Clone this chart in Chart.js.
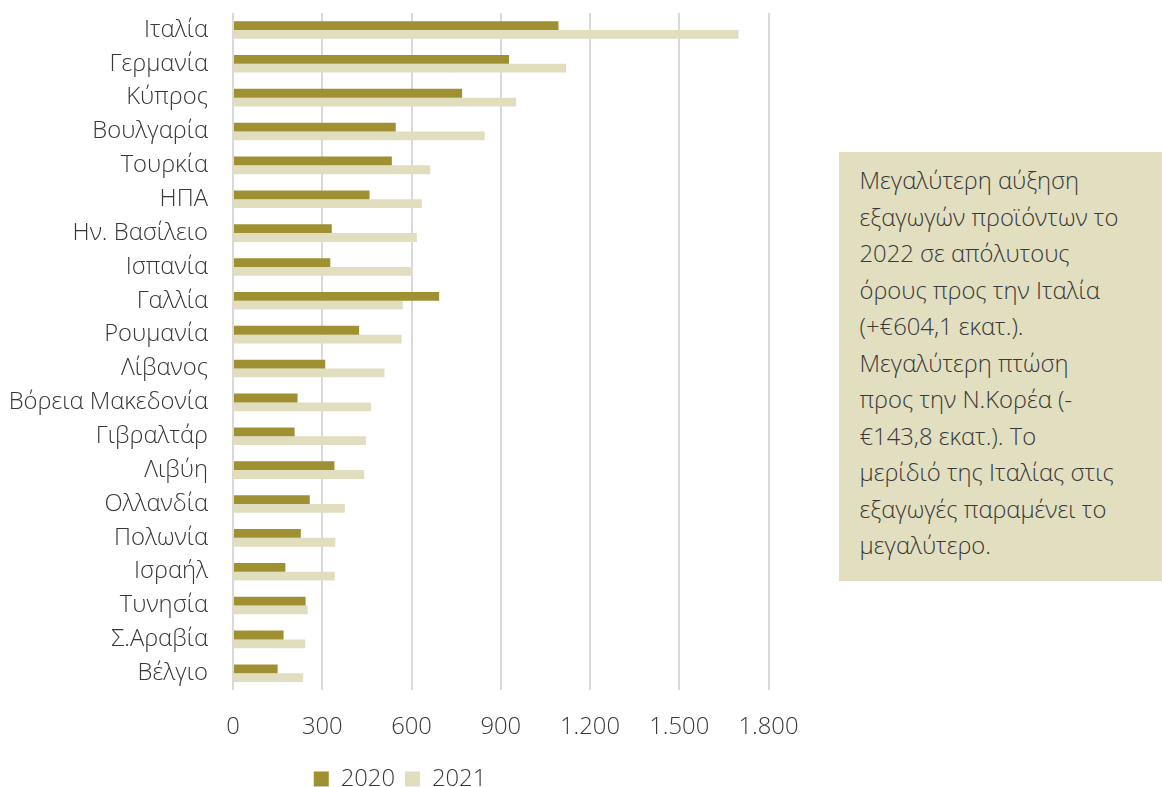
<!DOCTYPE html>
<html>
<head>
<meta charset="utf-8">
<script src="https://cdn.jsdelivr.net/npm/chart.js@4/dist/chart.umd.min.js"></script>
<style>
  html, body { margin: 0; padding: 0; background: #ffffff; overflow: hidden; }
  #wrap { position: relative; width: 1162px; height: 787px; overflow: hidden; }
  #chartBox { position: absolute; left: 0; top: 0; width: 800px; height: 803px; }
  #note {
    position: absolute; left: 839px; top: 152px; width: 323px; height: 429px;
    box-sizing: border-box; padding: 10px 0 0 20.5px;
    background: #e2dfc1; color: #383838;
    font-family: "Open Sans", sans-serif; font-weight: 300; font-size: 23.8px; line-height: 36.5px;
    white-space: nowrap;
  }
</style>
</head>
<body>
<div id="wrap">
  <div id="chartBox"><canvas id="c"></canvas></div>
  <div id="note">Μεγαλύτερη αύξηση<br>εξαγωγών προϊόντων το<br>2022 σε απόλυτους<br>όρους προς την Ιταλία<br>(+€604,1 εκατ.).<br>Μεγαλύτερη πτώση<br>προς την Ν.Κορέα (-<br>€143,8 εκατ.). Το<br>μερίδιό της Ιταλίας στις<br>εξαγωγές παραμένει το<br>μεγαλύτερο.</div>
</div>
<script>
const categories = ["Ιταλία","Γερμανία","Κύπρος","Βουλγαρία","Τουρκία","ΗΠΑ","Ην. Βασίλειο","Ισπανία","Γαλλία","Ρουμανία","Λίβανος","Βόρεια Μακεδονία","Γιβραλτάρ","Λιβύη","Ολλανδία","Πολωνία","Ισραήλ","Τυνησία","Σ.Αραβία","Βέλγιο"];
const values2020 = [1094, 928, 770, 547, 534, 459, 332, 327, 693, 424, 310, 217, 207, 341, 258, 228, 176, 244, 170, 150];
const values2021 = [1699, 1120, 952, 846, 663, 635, 618, 604, 571, 567, 509, 464, 447, 441, 376, 344, 342, 251, 243, 236];
const seriesNames = ["2020", "2021"];
const xTicks = [0, 300, 600, 900, 1200, 1500, 1800];

const FONT = { family: "'Open Sans', sans-serif", size: 23.8, weight: 300 };
const TEXT = '#383838';

function fmt(v) {
  return String(v).replace(/\B(?=(\d{3})+(?!\d))/g, '.');
}

new Chart(document.getElementById('c'), {
  type: 'bar',
  data: {
    labels: categories,
    datasets: [
      { label: seriesNames[0], data: values2020, backgroundColor: '#9f9132', borderWidth: 0 },
      { label: seriesNames[1], data: values2021, backgroundColor: '#e1dec0', borderWidth: 0 }
    ]
  },
  options: {
    indexAxis: 'y',
    responsive: true,
    maintainAspectRatio: false,
    animation: false,
    datasets: { bar: { categoryPercentage: 0.52, barPercentage: 1.0 } },
    layout: { padding: { top: 13, left: 0, right: 0, bottom: 2 } },
    scales: {
      x: {
        min: 0, max: 1800,
        afterBuildTicks: (s) => { s.ticks = xTicks.map(v => ({ value: v })); },
        grid: { color: '#d9d9d9', lineWidth: 2, drawTicks: false },
        border: { display: false },
        ticks: { font: FONT, color: TEXT, padding: 22.5, maxRotation: 0, callback: (v) => fmt(v) },
        afterFit: (s) => { s.height = 67; s.paddingLeft = 0; s.paddingRight = 31.5; }
      },
      y: {
        grid: { display: false, drawTicks: false },
        border: { display: false },
        ticks: { font: FONT, color: TEXT, padding: 25, autoSkip: false },
        afterFit: (s) => { s.width = 233; s.paddingTop = 0; s.paddingBottom = 0; }
      }
    },
    plugins: {
      legend: {
        position: 'bottom',
        labels: { font: FONT, color: TEXT, boxWidth: 15, boxHeight: 15, padding: 10 }
      },
      tooltip: { enabled: false }
    }
  }
});
</script>
</body>
</html>
